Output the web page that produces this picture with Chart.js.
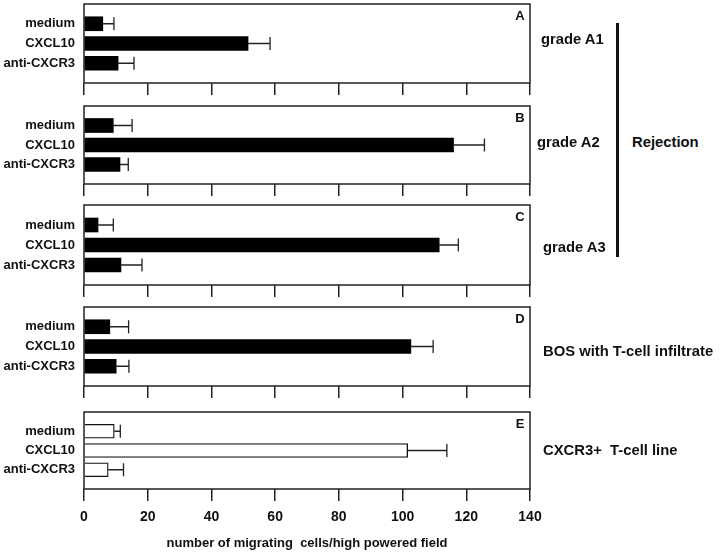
<!DOCTYPE html>
<html>
<head>
<meta charset="utf-8">
<script src="https://cdn.jsdelivr.net/npm/chart.js@4/dist/chart.umd.min.js"></script>
<style>
body{margin:0;width:720px;height:553px;background:#fff;position:relative;overflow:hidden;font-family:"Liberation Sans",Arial,sans-serif;font-weight:bold;color:#111}
canvas{position:absolute;left:0}
.lbl{position:absolute;font-size:14.8px;white-space:pre;line-height:1}
#rej_line{position:absolute;left:616px;top:23px;width:3px;height:234px;background:#111}
</style>
</head>
<body>
<canvas id="pA" style="top:0px" width="560" height="100"></canvas>
<canvas id="pB" style="top:102px" width="560" height="99"></canvas>
<canvas id="pC" style="top:201px" width="560" height="101"></canvas>
<canvas id="pD" style="top:303px" width="560" height="100"></canvas>
<canvas id="pE" style="top:408px" width="560" height="145"></canvas>

<div class="lbl" style="left:541px;top:32px">grade A1</div>
<div class="lbl" style="left:537px;top:135px">grade A2</div>
<div class="lbl" style="left:543px;top:240px">grade A3</div>
<div class="lbl" style="left:543px;top:344px">BOS with T-cell infiltrate</div>
<div class="lbl" style="left:543px;top:443px">CXCR3+  T-cell line</div>
<div class="lbl" style="left:632px;top:135px">Rejection</div>
<div id="rej_line"></div>

<script>
// data
var categories = ["medium", "CXCL10", "anti-CXCR3"];
var gradeA1 = [5.9, 51.5, 10.7];
var gradeA1_sd = [3.5, 6.9, 5.0];
var gradeA2 = [9.2, 116, 11.3];
var gradeA2_sd = [5.9, 9.7, 2.6];
var gradeA3 = [4.4, 111.5, 11.6];
var gradeA3_sd = [4.8, 6.0, 6.6];
var bos = [8.1, 102.6, 10.1];
var bos_sd = [5.9, 7.0, 4.0];
var tline = [9.5, 101.6, 7.6];
var tline_sd = [1.9, 12.3, 4.8];
var xTicks = [0, 20, 40, 60, 80, 100, 120, 140];

Chart.defaults.font.family = "'Liberation Sans', Arial, sans-serif";
Chart.defaults.font.weight = "bold";
Chart.defaults.font.size = 13;
Chart.defaults.color = "#111";

var boxPlugin = {
    id: "box",
    afterDatasetsDraw: function(chart, args, opts){
        var c = chart.ctx, a = chart.chartArea;
        var xs = chart.scales.x, ys = chart.scales.y;
        var vals = opts.values, sd = opts.sd;
        c.save();
        // error bars
        c.strokeStyle = "#222";
        c.lineWidth = 1.3;
        for(var i = 0; i < vals.length; i++){
            var y = ys.getPixelForValue(i + 1);
            var x0 = xs.getPixelForValue(vals[i]);
            var x1 = xs.getPixelForValue(vals[i] + sd[i]);
            c.beginPath();
            c.moveTo(x0, y);
            c.lineTo(x1, y);
            c.moveTo(x1, y - 6.5);
            c.lineTo(x1, y + 6.5);
            c.stroke();
        }
        // panel frame
        c.lineWidth = 1.5;
        c.strokeRect(a.left, a.top, a.right - a.left, a.bottom - a.top);
        // panel letter
        c.fillStyle = "#111";
        c.font = "bold 13px 'Liberation Sans', Arial";
        c.textAlign = "center";
        c.textBaseline = "middle";
        c.fillText(opts.letter, a.right - 10, a.top + 12);
        c.restore();
    }
};

function makePanel(id, values, sd, letter, open, last){
    var data = values.map(function(v, i){ return {x: v, y: i + 1}; });
    return new Chart(document.getElementById(id), {
        type: "bar",
        data: {
            datasets: [{
                data: data,
                backgroundColor: open ? "#fff" : "#000",
                borderColor: "#111",
                borderWidth: open ? 1.3 : 0,
                barThickness: 14
            }]
        },
        options: {
            indexAxis: "y",
            responsive: false,
            animation: false,
            events: [],
            layout: {padding: {top: 4, right: 30, left: 0, bottom: 0}},
            plugins: {
                legend: {display: false},
                tooltip: {enabled: false},
                box: {values: values, sd: sd, letter: letter}
            },
            scales: {
                x: {
                    type: "linear",
                    min: 0, max: 140,
                    afterBuildTicks: function(s){ s.ticks = xTicks.map(function(v){ return {value: v}; }); },
                    grid: {drawOnChartArea: false, drawTicks: true, tickLength: 12, color: "#222", lineWidth: 1.5},
                    border: {display: false},
                    ticks: {display: last, padding: 8, font: {size: 14, weight: "bold"}, color: "#111"},
                    title: {
                        display: last,
                        text: "number of migrating  cells/high powered field",
                        font: {size: 13, weight: "bold"},
                        padding: {top: 12, bottom: 2}
                    },
                    afterFit: function(s){ s.height = last ? 64 : 17; s.paddingLeft = 0; s.paddingRight = 0; }
                },
                y: {
                    type: "linear",
                    min: 0, max: 4,
                    offset: false,
                    reverse: true,
                    afterBuildTicks: function(s){ s.ticks = [1, 2, 3].map(function(v){ return {value: v}; }); },
                    grid: {display: false, drawTicks: false},
                    border: {display: false},
                    ticks: {
                        padding: 9,
                        autoSkip: false,
                        font: {size: 13, weight: "bold"},
                        callback: function(v){ return categories[v - 1] || ""; }
                    },
                    afterFit: function(s){ s.width = 84; s.paddingTop = 0; s.paddingBottom = 0; }
                }
            }
        },
        plugins: [boxPlugin]
    });
}

makePanel("pA", gradeA1, gradeA1_sd, "A", false, false);
makePanel("pB", gradeA2, gradeA2_sd, "B", false, false);
makePanel("pC", gradeA3, gradeA3_sd, "C", false, false);
makePanel("pD", bos, bos_sd, "D", false, false);
makePanel("pE", tline, tline_sd, "E", true, true);
</script>
</body>
</html>
